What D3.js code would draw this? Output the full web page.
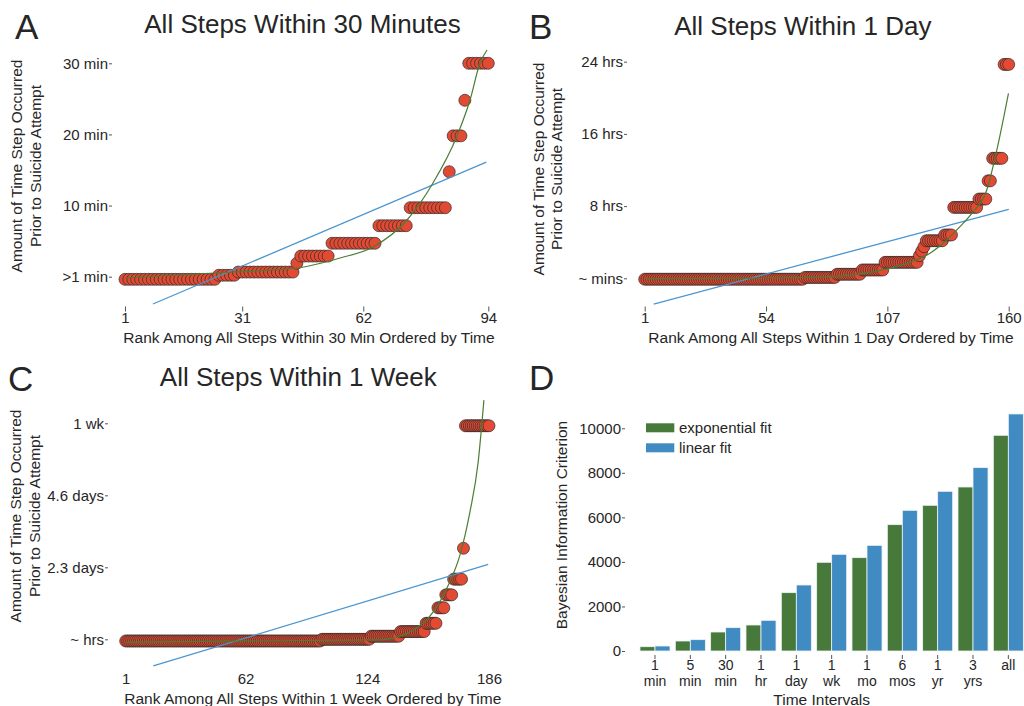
<!DOCTYPE html>
<html>
<head>
<meta charset="utf-8">
<script src="https://cdn.jsdelivr.net/npm/d3@7"></script>
<style>
  body { margin: 0; background: #fff; }
  svg { font-family: "Liberation Sans", Arial, sans-serif; }
  .tick text { font-size: 15px; fill: #262626; }
  .tick line { stroke: #555; }
  .cat .tick text { font-size: 14px; }
</style>
</head>
<body>
<div id="chart"></div>
<script>
// ---- Panel A: all steps within 30 minutes (values in minutes) ----
const xTicksA = [1, 31, 62, 94];
const yTicksA = [0, 10, 20, 30];
const yLabelsA = [">1 min", "10 min", "20 min", "30 min"];
const levelsA = [-0.37, 0.2, 0.65, 1.9, 2.9, 4.7, 7.17, 9.7, 14.76, 19.8, 24.8, 30];
const countsA = [24, 5, 15, 1, 8, 12, 8, 10, 1, 3, 1, 6];
const linFitA = [[8.15, -3.84], [93.5, 16.1]];
const expFitA = [[1, -0.18], [28.65, 0.66], [45.03, 1.22], [56.04, 2.63], [64.49, 4.18],
  [73.19, 7.97], [79.85, 13.18], [85.99, 19.78], [89.32, 24.84], [91.88, 30.04], [93.68, 31.87]];

// ---- Panel B: all steps within 1 day (values in hours) ----
const xTicksB = [1, 54, 107, 160];
const yTicksB = [0, 8, 16, 24];
const yLabelsB = ["~ mins", "8 hrs", "16 hrs", "24 hrs"];
const levelsB = [-0.1, 0.1, 0.45, 0.92, 1.77, 2.5, 3.0, 3.5, 4.16, 4.8, 7.86, 8.78, 10.8, 13.3, 23.7];
const countsB = [70, 14, 11, 10, 15, 1, 1, 1, 8, 4, 11, 4, 2, 5, 3];
const linFitB = [[4.93, -2.85], [160, 7.65]];
const expFitB = [[1, -0.04], [51.4, 0.03], [86.3, 0.25], [100.9, 0.73], [115.5, 1.66], [125.6, 2.77],
  [132.9, 4.24], [138.7, 5.72], [143.9, 7.2], [150.4, 9.78], [154.8, 14.2], [159.9, 20.5]];

// ---- Panel C: all steps within 1 week (values in days) ----
const xTicksC = [1, 62, 124, 186];
const yTicksC = [0, 7 / 3, 14 / 3, 7];
const yLabelsC = ["~ hrs", "2.3 days", "4.6 days", "1 wk"];
const levelsC = [-0.055, 0.0, 0.1, 0.25, 0.52, 1.02, 1.44, 1.95, 2.95, 6.92];
const countsC = [100, 25, 15, 13, 6, 4, 4, 5, 1, 13];
const linFitC = [[15.05, -0.865], [185.6, 2.43]];
const expFitC = [[1, -0.09], [130.5, -0.02], [147.4, 0.30], [157.6, 0.89], [165.3, 1.76],
  [171.2, 2.73], [176.3, 4.13], [180.5, 5.75], [183.4, 7.75]];

// ---- Panel D: BIC per time interval ----
const intervalTop = ["1", "5", "30", "1", "1", "1", "1", "6", "1", "3", "all"];
const intervalBottom = ["min", "min", "min", "hr", "day", "wk", "mo", "mos", "yr", "yrs", ""];
const bicExp = [193, 449, 853, 1168, 2620, 3982, 4192, 5674, 6542, 7365, 9686];
const bicLin = [224, 509, 1048, 1377, 2964, 4341, 4745, 6317, 7171, 8234, 10644];
const bicTicks = [0, 2000, 4000, 6000, 8000, 10000];

const RED = "#e24a33", BLUE_LINE = "#4b96cf", GREEN_LINE = "#4c7d32";
const GREEN_BAR = "#47793a", BLUE_BAR = "#3f8bc2", TEXT = "#262626";

const svg = d3.select("#chart").append("svg")
  .attr("width", 1024)
  .attr("height", 706);

function expand(levels, counts) {
  let out = [], rank = 1;
  levels.forEach((v, i) => {
    for (let k = 0; k < counts[i]; k++) out.push({rank: rank++, value: v});
  });
  return out;
}

function scatterPanel(p) {
  const x = d3.scaleLinear().domain([1, p.xTicks[p.xTicks.length - 1]]).range(p.xr);
  const y = d3.scaleLinear().domain([0, p.yTicks[p.yTicks.length - 1]]).range(p.yr);
  const g = svg.append("g");

  g.selectAll("circle")
    .data(expand(p.levels, p.counts))
    .join("circle")
    .attr("cx", d => x(d.rank))
    .attr("cy", d => y(d.value))
    .attr("r", 6)
    .attr("fill", RED)
    .attr("stroke", "#2a2a2a")
    .attr("stroke-opacity", 0.85)
    .attr("stroke-width", 0.8);

  const straight = d3.line().x(d => x(d[0])).y(d => y(d[1]));
  const curved = d3.line().x(d => x(d[0])).y(d => y(d[1])).curve(d3.curveMonotoneX);

  g.append("path").datum(p.lin)
    .attr("d", straight)
    .attr("fill", "none")
    .attr("stroke", BLUE_LINE)
    .attr("stroke-width", 1.3);

  g.append("path").datum(p.exp)
    .attr("d", curved)
    .attr("fill", "none")
    .attr("stroke", GREEN_LINE)
    .attr("stroke-width", 1.2);

  // axes
  const yAxis = d3.axisLeft(y).tickValues(p.yTicks)
    .tickFormat((d, i) => p.yLabels[i]).tickSize(3).tickPadding(1);
  g.append("g").attr("transform", `translate(${p.yAxisX},0)`).call(yAxis)
    .call(a => a.select(".domain").remove());

  const xAxis = d3.axisBottom(x).tickValues(p.xTicks)
    .tickSize(p.xTickSize).tickPadding(p.xTickPad);
  g.append("g").attr("transform", `translate(0,${p.xAxisY})`).call(xAxis)
    .call(a => a.select(".domain").remove())
    .call(a => a.selectAll(".tick line").attr("stroke", "#999"));

  // texts
  g.append("text").attr("x", p.title[1]).attr("y", p.title[2])
    .attr("text-anchor", "middle").attr("font-size", 26).attr("fill", TEXT)
    .text(p.title[0]);
  g.append("text").attr("x", p.letter[1]).attr("y", p.letter[2])
    .attr("font-size", 35).attr("fill", TEXT).text(p.letter[0]);
  g.append("text").attr("x", p.xLabel[1]).attr("y", p.xLabel[2])
    .attr("text-anchor", "middle").attr("font-size", 15.5).attr("fill", TEXT)
    .text(p.xLabel[0]);
  ["Amount of Time Step Occurred", "Prior to Suicide Attempt"].forEach((t, i) => {
    g.append("text")
      .attr("transform", `translate(${p.yLabelX[i]},${p.yLabelY}) rotate(-90)`)
      .attr("text-anchor", "middle").attr("font-size", 15.5).attr("fill", TEXT)
      .text(t);
  });
}

scatterPanel({
  levels: levelsA, counts: countsA, lin: linFitA, exp: expFitA,
  xTicks: xTicksA, yTicks: yTicksA, yLabels: yLabelsA,
  xr: [125, 488.3], yr: [276.7, 63.3],
  yAxisX: 112, xAxisY: 306.5, xTickSize: 5, xTickPad: 1.2,
  title: ["All Steps Within 30 Minutes", 302.5, 33.3],
  letter: ["A", 15, 39.3],
  xLabel: ["Rank Among All Steps Within 30 Min Ordered by Time", 309, 342.5],
  yLabelX: [22, 40.5], yLabelY: 166
});

scatterPanel({
  levels: levelsB, counts: countsB, lin: linFitB, exp: expFitB,
  xTicks: xTicksB, yTicks: yTicksB, yLabels: yLabelsB,
  xr: [644.7, 1008.7], yr: [278.3, 61.7],
  yAxisX: 627, xAxisY: 306.5, xTickSize: 5, xTickPad: 1,
  title: ["All Steps Within 1 Day", 802.8, 35],
  letter: ["B", 529, 39.3],
  xLabel: ["Rank Among All Steps Within 1 Day Ordered by Time", 831, 342.5],
  yLabelX: [543.5, 561.5], yLabelY: 169
});

scatterPanel({
  levels: levelsC, counts: countsC, lin: linFitC, exp: expFitC,
  xTicks: xTicksC, yTicks: yTicksC, yLabels: yLabelsC,
  xr: [125.7, 489], yr: [639.3, 423.3],
  yAxisX: 108, xAxisY: 666, xTickSize: 0, xTickPad: 7.6,
  title: ["All Steps Within 1 Week", 298.3, 386],
  letter: ["C", 8, 390.5],
  xLabel: ["Rank Among All Steps Within 1 Week Ordered by Time", 312.8, 704.3],
  yLabelX: [20.5, 39.5], yLabelY: 516
});

// ---- Panel D ----
const gD = svg.append("g");
const x0 = d3.scaleBand().domain(d3.range(intervalTop.length))
  .range([637.33, 1026]).paddingInner(0.15).paddingOuter(0.075);
const x1 = d3.scaleBand().domain(["exp", "lin"]).range([0, x0.bandwidth()]);
const yD = d3.scaleLinear().domain([0, 10000]).range([651, 428.3]);

const groups = gD.selectAll("g.grp")
  .data(d3.range(intervalTop.length))
  .join("g").attr("class", "grp")
  .attr("transform", i => `translate(${x0(i)},0)`);

groups.selectAll("rect")
  .data(i => [{k: "exp", v: bicExp[i]}, {k: "lin", v: bicLin[i]}])
  .join("rect")
  .attr("x", d => x1(d.k))
  .attr("width", x1.bandwidth())
  .attr("y", d => yD(d.v))
  .attr("height", d => yD(0) - yD(d.v))
  .attr("fill", d => d.k === "exp" ? GREEN_BAR : BLUE_BAR)
  .attr("stroke", "#eef3f7")
  .attr("stroke-width", 0.8);

gD.append("g").attr("transform", "translate(625,0)")
  .call(d3.axisLeft(yD).tickValues(bicTicks).tickFormat(d3.format("d")).tickSize(3).tickPadding(1))
  .call(a => a.select(".domain").remove());

const xAxisD = gD.append("g").attr("class", "cat").attr("transform", "translate(0,655)")
  .call(d3.axisBottom(x0).tickSize(4).tickFormat(""))
  .call(a => a.select(".domain").remove())
  .call(a => a.selectAll(".tick line").attr("stroke", "#999"));

// two-line category labels, one text per line
xAxisD.selectAll(".tick").each(function(i) {
  const tick = d3.select(this);
  tick.select("text").attr("dy", null).attr("y", 14.5).text(intervalTop[i]);
  if (intervalBottom[i]) {
    tick.append("text").attr("fill", "currentColor").attr("y", 31).text(intervalBottom[i]);
  }
});

// legend
const legend = [["exponential fit", GREEN_BAR], ["linear fit", BLUE_BAR]];
legend.forEach((d, i) => {
  gD.append("rect").attr("x", 646).attr("y", 423.3 + i * 20)
    .attr("width", 28.3).attr("height", 9).attr("fill", d[1]);
  gD.append("text").attr("x", 679).attr("y", 432.5 + i * 20)
    .attr("font-size", 15).attr("fill", TEXT).text(d[0]);
});

gD.append("text").attr("x", 821.7).attr("y", 704.5)
  .attr("text-anchor", "middle").attr("font-size", 15.5).attr("fill", TEXT)
  .text("Time Intervals");
gD.append("text")
  .attr("transform", "translate(567,525) rotate(-90)")
  .attr("text-anchor", "middle").attr("font-size", 15.5).attr("fill", TEXT)
  .text("Bayesian Information Criterion");
gD.append("text").attr("x", 529).attr("y", 390)
  .attr("font-size", 35).attr("fill", TEXT).text("D");
</script>
</body>
</html>
